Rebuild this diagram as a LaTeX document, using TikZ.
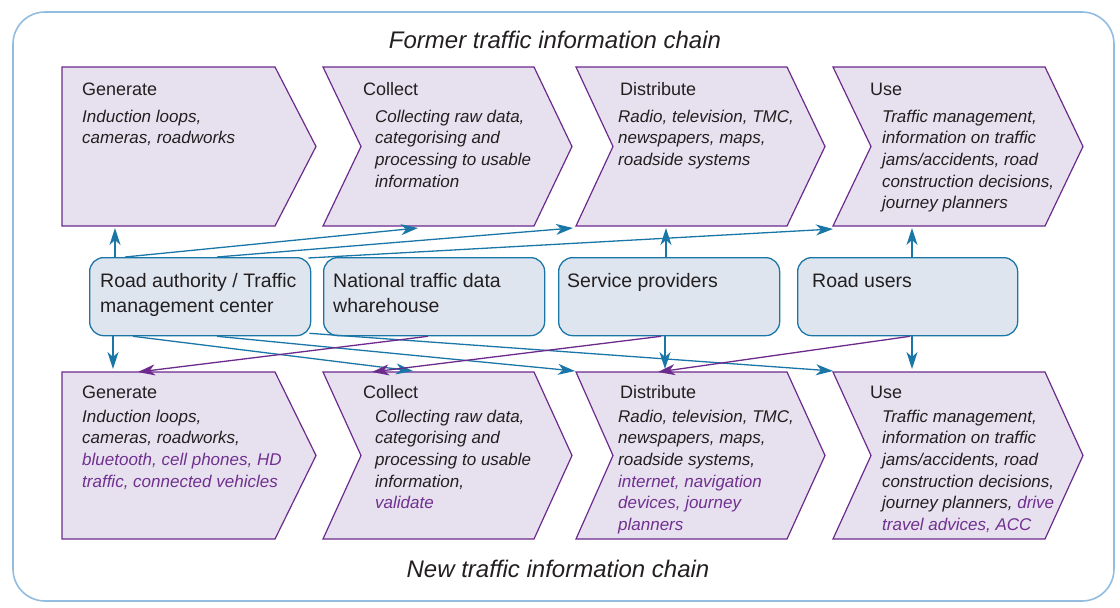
\documentclass[tikz,border=0pt]{standalone}
\usepackage{fontspec}
\setmainfont{Liberation Sans}
\usetikzlibrary{arrows.meta}
\definecolor{chevfill}{HTML}{E7E1EF}
\definecolor{chevline}{HTML}{6C2A8C}
\definecolor{boxfill}{HTML}{DFE5EF}
\definecolor{boxline}{HTML}{1A76A6}
\definecolor{arrblue}{HTML}{1A76A6}
\definecolor{arrpurp}{HTML}{6C2A8C}
\definecolor{txt}{HTML}{231F20}
\definecolor{txtpurp}{HTML}{70308F}
\definecolor{framecol}{HTML}{92BDE0}
\begin{document}
\begin{tikzpicture}[x=1pt,y=-1pt,
  chev/.style={fill=chevfill,draw=chevline,line width=1.2pt,line join=miter},
  mbox/.style={draw=boxline,fill=boxfill,line width=1.3pt,rounded corners=14pt,anchor=north west,minimum height=78pt,inner sep=0pt},
  head/.style={anchor=base west,inner sep=0pt,text=txt,font=\fontsize{18}{21.6}\selectfont},
  body/.style={anchor=north west,inner sep=0pt,align=left,text=txt,font=\fontsize{17}{21.6}\selectfont\itshape},
  boxtxt/.style={anchor=north west,inner sep=0pt,align=left,text=txt,font=\fontsize{19.5}{25}\selectfont},
  ttl/.style={anchor=base,inner sep=0pt,text=txt,font=\fontsize{24}{28}\selectfont\itshape},
  barr/.style={draw=arrblue,line width=1.3pt,-{Stealth[length=17pt,width=11pt,inset=5pt]}},
  parr/.style={draw=arrpurp,line width=1.3pt,-{Stealth[length=17pt,width=11pt,inset=5pt]}}]
\useasboundingbox (0,0) rectangle (1120,608);
% frame
\draw[draw=framecol,line width=1.6pt,rounded corners=32pt] (13,12) rectangle (1114,601);
% titles
\node[ttl] (t_top) at (555,48) {Former traffic information chain};
\node[ttl] (t_bot) at (558,577) {New traffic information chain};
% top chevrons
\path[chev] (62,67)--(275,67)--(316,146.5)--(275,226)--(62,226)--cycle;
\path[chev] (323,67)--(534,67)--(572,146.5)--(534,226)--(323,226)--(361,146.5)--cycle;
\path[chev] (576,67)--(787,67)--(825,146.5)--(787,226)--(576,226)--(613,146.5)--cycle;
\path[chev] (833,67)--(1045,67)--(1083,146.5)--(1045,226)--(833,226)--(871,146.5)--cycle;
% bottom chevrons
\path[chev] (62,372)--(275,372)--(316,455.5)--(275,539)--(62,539)--cycle;
\path[chev] (323,372)--(534,372)--(572,455.5)--(534,539)--(323,539)--(361,455.5)--cycle;
\path[chev] (576,372)--(787,372)--(825,455.5)--(787,539)--(576,539)--(613,455.5)--cycle;
\path[chev] (833,372)--(1045,372)--(1083,455.5)--(1045,539)--(833,539)--(871,455.5)--cycle;
% top texts
\node[head] (h1) at (82,95) {Generate};
\node[body] (x1) at (82,109) {\rule{0pt}{13pt}Induction loops,\\cameras, roadworks};
\node[head] (h2) at (363,95) {Collect};
\node[body] (x2) at (375,109) {\rule{0pt}{13pt}Collecting raw data,\\categorising and\\processing to usable\\information};
\node[head] (h3) at (620,95) {Distribute};
\node[body] (x3) at (618,109) {\rule{0pt}{13pt}Radio, television, TMC,\\newspapers, maps,\\roadside systems};
\node[head] (h4) at (870,95) {Use};
\node[body] (x4) at (882,109) {\rule{0pt}{13pt}Traffic management,\\information on traffic\\jams/accidents, road\\construction decisions,\\journey planners};
% bottom texts
\node[head] (h5) at (82,398) {Generate};
\node[body] (x5) at (82,409) {\rule{0pt}{13pt}Induction loops,\\cameras, roadworks,\\{\color{txtpurp}bluetooth, cell phones, HD}\\{\color{txtpurp}traffic, connected vehicles}};
\node[head] (h6) at (363,398) {Collect};
\node[body] (x6) at (375,409) {\rule{0pt}{13pt}Collecting raw data,\\categorising and\\processing to usable\\information,\\{\color{txtpurp}validate}};
\node[head] (h7) at (620,398) {Distribute};
\node[body] (x7) at (618,409) {\rule{0pt}{13pt}Radio, television, TMC,\\newspapers, maps,\\roadside systems,\\{\color{txtpurp}internet, navigation}\\{\color{txtpurp}devices, journey}\\{\color{txtpurp}planners}};
\node[head] (h8) at (870,398) {Use};
\node[body] (x8) at (882,409) {\rule{0pt}{13pt}Traffic management,\\information on traffic\\jams/accidents, road\\construction decisions,\\journey planners, {\color{txtpurp}drive}\\{\color{txtpurp}travel advices, ACC}};
% middle boxes
\node[mbox,minimum width=221pt] (b1) at (89,257) {};
\node[mbox,minimum width=221pt] (b2) at (323,257) {};
\node[mbox,minimum width=221pt] (b3) at (558,257) {};
\node[mbox,minimum width=220pt] (b4) at (797,257) {};
\node[boxtxt] (bt1) at (100,272) {\rule{0pt}{15pt}Road authority / Traffic\\management center};
\node[boxtxt] (bt2) at (333,272) {\rule{0pt}{15pt}National traffic data\\wharehouse};
\node[boxtxt] (bt3) at (567,272) {\rule{0pt}{15pt}Service providers};
\node[boxtxt] (bt4) at (812,272) {\rule{0pt}{15pt}Road users};
% arrow end points
\coordinate (t1) at (115,228);
\coordinate (t2) at (418,228);
\coordinate (t3) at (573,228);
\coordinate (t4) at (833,229);
\coordinate (t5) at (666,228);
\coordinate (t6) at (912,228);
\coordinate (u1) at (113,369);
\coordinate (u2) at (413,371);
\coordinate (u3) at (575,371);
\coordinate (u4) at (833,371);
\coordinate (u5) at (665,369);
\coordinate (u6) at (912,369);
\coordinate (p1) at (138,372);
\coordinate (p2) at (372,372);
\coordinate (p3) at (658,372);
% blue arrows up
\draw[barr] (b1.north -| t1) -- (t1);
\draw[barr] ([xshift=36pt]b1.north west) -- (t2);
\draw[barr] ([xshift=128pt]b1.north west) -- (t3);
\draw[barr] ([xshift=-3pt,yshift=-1pt]b1.north east) -- (t4);
\draw[barr] (b3.north -| t5) -- (t5);
\draw[barr] (b4.north -| t6) -- (t6);
% blue arrows down
\draw[barr] (b1.south -| u1) -- (u1);
\draw[barr] ([xshift=44pt]b1.south west) -- (u2);
\draw[barr] ([xshift=128pt]b1.south west) -- (u3);
\draw[barr] ([xshift=-2pt,yshift=3pt]b1.south east) -- (u4);
\draw[barr] (b3.south -| u5) -- (u5);
\draw[barr] (b4.south -| u6) -- (u6);
% purple arrows down
\draw[parr] ([xshift=105pt]b2.south west) -- (p1);
\draw[parr] ([xshift=103pt]b3.south west) -- (p2);
\draw[parr] ([xshift=113pt]b4.south west) -- (p3);
\end{tikzpicture}
\end{document}
